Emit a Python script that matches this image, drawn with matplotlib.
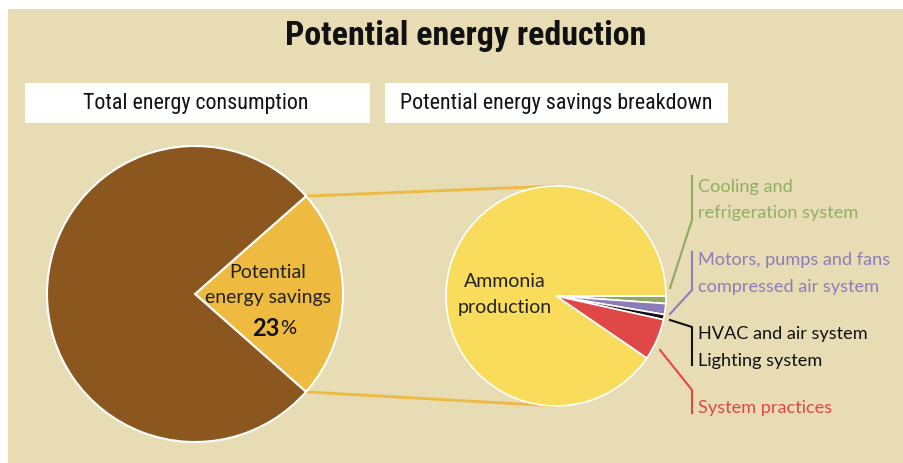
import numpy as np
import matplotlib.pyplot as plt
from matplotlib.patches import Rectangle
from matplotlib import font_manager as fm

# datos
total_labels = ["Potential energy savings", "Rest of consumption"]
total_values = [23, 77]

breakdown_labels = ["Cooling and\nrefrigeration system",
                    "Motors, pumps and fans\ncompressed air system",
                    "HVAC and air system\nLighting system",
                    "System practices",
                    "Ammonia\nproduction"]
breakdown_values = [1.1, 1.6, 0.75, 6.1, 90.45]

# colores
fondo = "#E8DCB5"
marron = "#8B571E"
naranja = "#EEBA40"
amarillo = "#F9DC5C"
verde = "#8DAA5E"
morado = "#8C7DB8"
rojo = "#E04848"
negro = "#111111"
breakdown_colors = [verde, morado, negro, rojo, amarillo]

W, H = 904, 463

# fuente estrecha si existe
instaladas = set(f.name for f in fm.fontManager.ttflist)
estrecha = "DejaVu Sans"
for nombre in ["Roboto Condensed", "Open Sans Condensed", "Liberation Sans Narrow",
               "Noto Sans Condensed", "Arial Narrow"]:
    if nombre in instaladas:
        estrecha = nombre
        break
fuente_titulo = [estrecha, "DejaVu Sans"]
fuente = ["Lato", "DejaVu Sans"]


def P(y):
    # pixel y (desde arriba) a coordenada de datos
    return H - y


fig = plt.figure(figsize=(9.04, 4.63), dpi=100)
ax = fig.add_axes([0, 0, 1, 1])

ax.add_patch(Rectangle((8, 0), W - 8, P(9), facecolor=fondo, edgecolor="none", zorder=0))

ax.text(466, P(36), "Potential energy reduction", ha="center", va="center",
        fontsize=24.5, fontweight="bold", family=fuente_titulo, color="#111111")

# cajas blancas
ax.add_patch(Rectangle((25, P(123)), 345, 40, facecolor="white", edgecolor="none", zorder=1))
ax.add_patch(Rectangle((385, P(123)), 343, 40, facecolor="white", edgecolor="none", zorder=1))
ax.text(196, P(103), "Total energy consumption", ha="center", va="center",
        fontsize=15.8, family=fuente_titulo, color="#111111", zorder=2)
ax.text(556, P(103), "Potential energy savings breakdown", ha="center", va="center",
        fontsize=15.8, family=fuente_titulo, color="#111111", zorder=2)

# pie izquierdo
c1 = (195, P(294))
r1 = 148
ang = total_values[0] / sum(total_values) * 180
ax.pie(total_values, colors=[naranja, marron], startangle=-ang, center=c1, radius=r1,
       wedgeprops=dict(edgecolor="white", linewidth=1.5), frame=True)

# pie derecho
c2 = (556, P(296))
r2 = 110
ax.pie(breakdown_values, colors=breakdown_colors, startangle=0, counterclock=False,
       center=c2, radius=r2, wedgeprops=dict(edgecolor="white", linewidth=1.2), frame=True)

ax.set_xlim(0, W)
ax.set_ylim(0, H)
ax.set_aspect("auto")
ax.axis("off")

# lineas de conexion
a = np.deg2rad(ang)
ax.plot([c1[0] + r1 * np.cos(a), c2[0]], [c1[1] + r1 * np.sin(a), c2[1] + r2],
        color=naranja, lw=2, zorder=0.5, solid_capstyle="butt")
ax.plot([c1[0] + r1 * np.cos(a), c2[0]], [c1[1] - r1 * np.sin(a), c2[1] - r2],
        color=naranja, lw=2, zorder=0.5, solid_capstyle="butt")

# textos dentro
ax.text(268, P(285), "Potential\nenergy savings", ha="center", va="center",
        fontsize=14, family=fuente, color="#222222", linespacing=1.5)
ax.text(280, P(329), "23", ha="right", va="center", fontsize=17, fontweight="bold",
        family=fuente, color="#111111")
ax.text(280, P(329), "%", ha="left", va="center", fontsize=14.5, family=fuente, color="#111111")
ax.text(505, P(294.5), breakdown_labels[4], ha="center", va="center",
        fontsize=14, family=fuente, color="#222222", linespacing=1.6)

# lineas guia y etiquetas
guias = [
    [(670, 288), (692, 220), (692, 176)],
    [(670, 314), (692, 290), (692, 252)],
    [(670, 320), (692, 327), (692, 365)],
    [(660, 350), (692, 390), (692, 413)],
]
pos_texto = [200, 273.5, 347.5, 408]
colores_texto = ["#8FAF62", morado, negro, rojo]
for i in range(4):
    xs = [p[0] for p in guias[i]]
    ys = [P(p[1]) for p in guias[i]]
    ax.plot(xs, ys, color=breakdown_colors[i], lw=1.5)
    ax.text(698, P(pos_texto[i]), breakdown_labels[i], ha="left", va="center",
            fontsize=13.1, family=fuente, color=colores_texto[i], linespacing=1.8)

fig.savefig("out.png", dpi=100, facecolor="white")
